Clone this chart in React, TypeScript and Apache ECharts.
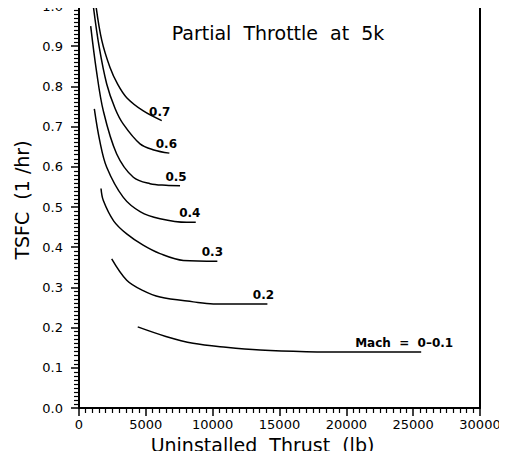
import React, { useEffect, useRef } from "react";
import * as echarts from "echarts";

// Uninstalled thrust (lb) vs TSFC (1/hr), partial throttle at 5k ft
const mach07: [number, number][] = [
  [1270, 1.0], [1700, 0.915], [2320, 0.847], [2900, 0.805], [3570, 0.772], [4813, 0.739], [6190, 0.715],
];
const mach06: [number, number][] = [
  [1070, 1.0], [1500, 0.9], [2073, 0.806], [2700, 0.745], [3316, 0.706], [4566, 0.657], [5600, 0.642], [6760, 0.634],
];
const mach05: [number, number][] = [
  [875, 0.95], [1300, 0.84], [1820, 0.739], [2820, 0.632], [4065, 0.574], [5314, 0.558], [6500, 0.554], [7560, 0.553],
];
const mach04: [number, number][] = [
  [1147, 0.744], [1550, 0.665], [2073, 0.599], [3316, 0.524], [4600, 0.488], [6063, 0.471], [8060, 0.462], [8735, 0.462],
];
const mach03: [number, number][] = [
  [1647, 0.546], [1820, 0.516], [2600, 0.465], [3570, 0.433], [4800, 0.405], [6063, 0.384], [7808, 0.367], [10350, 0.365],
];
const mach02: [number, number][] = [
  [2447, 0.371], [3570, 0.318], [4800, 0.292], [6063, 0.276], [8555, 0.264], [10050, 0.259], [14095, 0.259],
];
const mach01: [number, number][] = [
  [4394, 0.2017], [6500, 0.178], [8533, 0.161], [11000, 0.151], [13548, 0.144], [17000, 0.14], [21000, 0.139], [25600, 0.139],
];

const curves = [mach07, mach06, mach05, mach04, mach03, mach02, mach01];
const curveLabels = ["0.7", "0.6", "0.5", "0.4", "0.3", "0.2", "Mach  =  0–0.1"];
const labelShiftX = [-2, -3, -4, -6, -5, -4, -17];

const FONT = "DejaVu Sans";

export default function App() {
  const ref = useRef<HTMLDivElement>(null);
  useEffect(() => {
    if (!ref.current) return;
    const chart = echarts.init(ref.current, null, { renderer: "svg" });
    const series = curves.map((pts, i) => {
      const last = pts[pts.length - 1];
      return {
        type: "line",
        data: pts,
        smooth: 0.35,
        showSymbol: false,
        symbol: "none",
        lineStyle: { color: "#000", width: 1.5 },
        markPoint: {
          symbol: "circle",
          symbolSize: 0,
          itemStyle: { color: "transparent" },
          label: {
            show: true,
            position: "top",
            distance: 3,
            offset: [labelShiftX[i], 0],
            formatter: curveLabels[i],
            color: "#000",
            fontFamily: FONT,
            fontWeight: "bold",
            fontSize: 12,
          },
          data: [{ coord: [last[0], last[1]] }],
        },
      };
    });
    chart.setOption({
      animation: false,
      grid: {
        left: 79,
        right: 27,
        top: 6,
        bottom: 51,
        containLabel: false,
        outerBoundsMode: "none",
      },
      graphic: [
        {
          type: "text",
          x: 278,
          y: 33,
          style: {
            text: "Partial  Throttle  at  5k",
            align: "center",
            verticalAlign: "middle",
            fontFamily: FONT,
            fontSize: 19,
            fill: "#000",
          },
        },
      ],
      xAxis: [
        {
          type: "value",
          min: 0,
          max: 30000,
          interval: 5000,
          name: "Uninstalled  Thrust  (lb)",
          nameLocation: "middle",
          nameGap: 27,
          nameTextStyle: { fontFamily: FONT, fontSize: 19, color: "#000", padding: [0, 34, 0, 0] },
          axisLine: { show: true, onZero: false, lineStyle: { color: "#000", width: 2 } },
          axisTick: { show: true, inside: false, length: 8, lineStyle: { color: "#000", width: 1.5 } },
          minorTick: { show: true, splitNumber: 10, length: 5, lineStyle: { color: "#000", width: 1.2 } },
          splitLine: { show: false },
          axisLabel: {
            fontFamily: FONT,
            fontSize: 13,
            color: "#000",
            margin: 10,
            formatter: (v: number) => String(v),
          },
        },
        {
          type: "value",
          position: "top",
          min: 0,
          max: 30000,
          axisLine: { show: true, onZero: false, lineStyle: { color: "#000", width: 2 } },
          axisTick: { show: false },
          axisLabel: { show: false },
          splitLine: { show: false },
        },
      ],
      yAxis: [
        {
          type: "value",
          min: 0,
          max: 1,
          interval: 0.1,
          name: "TSFC  (1 /hr)",
          nameLocation: "middle",
          nameRotate: 90,
          nameGap: 44,
          nameTextStyle: { fontFamily: FONT, fontSize: 19, color: "#000", padding: [0, 0, 0, 14] },
          axisLine: { show: true, onZero: false, lineStyle: { color: "#000", width: 2 } },
          axisTick: { show: true, inside: false, length: 8, lineStyle: { color: "#000", width: 1.5 } },
          minorTick: { show: true, splitNumber: 10, length: 5, lineStyle: { color: "#000", width: 1.2 } },
          splitLine: { show: false },
          axisLabel: {
            fontFamily: FONT,
            fontSize: 13,
            color: "#000",
            margin: 16,
            formatter: (v: number) => v.toFixed(1),
          },
        },
        {
          type: "value",
          position: "right",
          min: 0,
          max: 1,
          axisLine: { show: true, onZero: false, lineStyle: { color: "#000", width: 2 } },
          axisTick: { show: false },
          axisLabel: { show: false },
          splitLine: { show: false },
        },
      ],
      series,
    });
    return () => chart.dispose();
  }, []);
  return <div ref={ref} style={{ width: 507, height: 459, margin: -8 }} />;
}
